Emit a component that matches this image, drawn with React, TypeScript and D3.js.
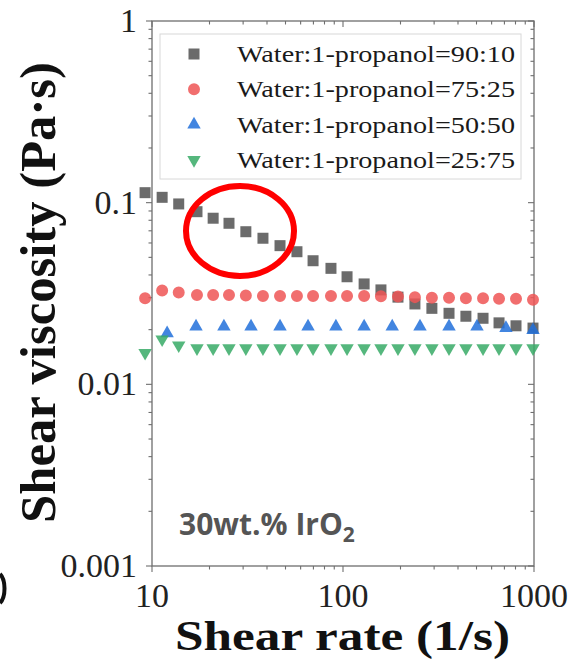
import React from "react";
import * as d3 from "d3";

// shear rates (1/s)
const rates = [9.2, 11.3, 13.8, 17.2, 20.9, 25.3, 31.0, 38.1, 46.8, 57.4, 69.7, 86.5, 105, 129, 158, 194, 238, 292, 359, 440, 541, 656, 805, 988];
const ratesBlue = [12.0, 17.0, 23.8, 33.0, 46.8, 65.6, 91.8, 129, 181, 253, 359, 503, 713, 988];

const visc9010 = [0.1135, 0.107, 0.0984, 0.0892, 0.0821, 0.077, 0.0692, 0.0637, 0.058, 0.0537, 0.0479, 0.0435, 0.0391, 0.0357, 0.0331, 0.0302, 0.0277, 0.0262, 0.0246, 0.0237, 0.0231, 0.0218, 0.021, 0.0204];
const visc7525 = [0.0298, 0.0328, 0.032, 0.031, 0.031, 0.031, 0.0308, 0.0306, 0.0306, 0.0306, 0.0306, 0.0306, 0.0306, 0.0306, 0.0305, 0.0304, 0.0302, 0.03, 0.03, 0.0298, 0.0298, 0.0296, 0.0296, 0.0292];
const visc5050 = [0.0191, 0.0208, 0.0208, 0.0208, 0.0208, 0.0208, 0.0208, 0.0208, 0.0208, 0.0208, 0.0208, 0.0208, 0.0204, 0.0199];
const visc2575 = [0.0149, 0.0177, 0.0164, 0.0158, 0.0158, 0.0158, 0.0158, 0.0158, 0.0158, 0.0158, 0.0158, 0.0158, 0.0158, 0.0158, 0.0158, 0.0158, 0.0158, 0.0158, 0.0158, 0.0158, 0.0158, 0.0158, 0.0158, 0.0158];

const seriesNames = [
  "Water:1-propanol=90:10",
  "Water:1-propanol=75:25",
  "Water:1-propanol=50:50",
  "Water:1-propanol=25:75",
];
const xTickLabels = ["10", "100", "1000"];
const yTickLabels = ["0.001", "0.01", "0.1", "1"];

const W = 584;
const H = 667;
const left = 152, right = 534, top = 21, bottom = 566;

const serif = "'Liberation Serif', 'Times New Roman', serif";

const App = () => {
  const x = d3.scaleLog().domain([10, 1000]).range([left, right]);
  const y = d3.scaleLog().domain([0.001, 1]).range([bottom, top]);

  const symbols = [
    { type: d3.symbolSquare, size: 121, rot: 0, color: "#515151" },
    { type: d3.symbolCircle, size: 113, rot: 0, color: "#ee5555" },
    { type: d3.symbolTriangle, size: 78, rot: 0, color: "#2170db" },
    { type: d3.symbolTriangle, size: 78, rot: 180, color: "#37aa66" },
  ];
  const paths = symbols.map((s) => d3.symbol().type(s.type).size(s.size)()!);

  const series = [
    { xs: rates, ys: visc9010 },
    { xs: rates, ys: visc7525 },
    { xs: ratesBlue, ys: visc5050 },
    { xs: rates, ys: visc2575 },
  ];

  const xTicks = x.ticks();
  const yTicks = y.ticks();
  const isMajor = (v: number) => Math.abs(Math.log10(v) - Math.round(Math.log10(v))) < 1e-6;
  const axisColor = "#6e6e6e";

  return (
    <svg width={W} height={H} style={{ position: "absolute", left: 0, top: 0, background: "#fff" }}>
      {/* frame */}
      <rect x={left} y={top} width={right - left} height={bottom - top} fill="none" stroke={axisColor} strokeWidth={1.3} />

      {/* x ticks: bottom outward, top inward */}
      {xTicks.map((t, i) => {
        const len = isMajor(t) ? 6 : 3.5;
        return (
          <g key={"xt" + i} stroke={axisColor} strokeWidth={1.1}>
            <line x1={x(t)} x2={x(t)} y1={bottom} y2={bottom + len} />
            <line x1={x(t)} x2={x(t)} y1={top} y2={top + len} />
          </g>
        );
      })}
      {/* y ticks: left outward, right inward */}
      {yTicks.map((t, i) => {
        const len = isMajor(t) ? 6 : 3.5;
        return (
          <g key={"yt" + i} stroke={axisColor} strokeWidth={1.1}>
            <line x1={left - len} x2={left} y1={y(t)} y2={y(t)} />
            <line x1={right - len} x2={right} y1={y(t)} y2={y(t)} />
          </g>
        );
      })}

      {/* tick labels */}
      {xTickLabels.map((lab) => (
        <text key={lab} x={x(+lab)} y={607} textAnchor="middle" fontFamily={serif} fontSize={34} fill="#222">
          {lab}
        </text>
      ))}
      {yTickLabels.map((lab) => (
        <text key={lab} x={137} y={y(+lab) + 11} textAnchor="end" fontFamily={serif} fontSize={34} fill="#222">
          {lab}
        </text>
      ))}

      {/* axis titles */}
      <text x={175} y={650} fontFamily={serif} fontWeight="bold" fontSize={42} textLength={335} lengthAdjust="spacingAndGlyphs" fill="#111">
        Shear rate (1/s)
      </text>
      <text
        transform={`translate(55, 523) rotate(-90)`}
        fontFamily={serif}
        fontWeight="bold"
        fontSize={50}
        textLength={461}
        lengthAdjust="spacingAndGlyphs"
        fill="#111"
      >
        Shear viscosity (Pa·s)
      </text>

      {/* legend */}
      <rect x={160} y={34} width={361} height={145} fill="#fff" stroke="#d8d8d8" strokeWidth={1} />
      {seriesNames.map((name, i) => {
        const cy = 54 + i * 35.3;
        return (
          <g key={name}>
            <path d={paths[i]} transform={`translate(194, ${cy}) rotate(${symbols[i].rot})`} fill={symbols[i].color} fillOpacity={0.85} />
            <text x={237} y={cy + 8} fontFamily={serif} fontSize={23} textLength={278} lengthAdjust="spacingAndGlyphs" fill="#1a1a1a">
              {name}
            </text>
          </g>
        );
      })}

      {/* data */}
      {series.map((s, si) => (
        <g key={"s" + si}>
          {s.xs.map((xv, j) => (
            <path
              key={j}
              d={paths[si]}
              transform={`translate(${x(xv)}, ${y(s.ys[j])}) rotate(${symbols[si].rot})`}
              fill={symbols[si].color}
              fillOpacity={0.85}
            />
          ))}
        </g>
      ))}

      {/* annotation */}
      <ellipse cx={240} cy={231} rx={54} ry={45} fill="none" stroke="#ff0000" strokeWidth={6} />
      <text x={179} y={535} fontFamily="'Open Sans', 'Noto Sans', sans-serif" fontWeight="bold" fontSize={30} fill="#555">
        30wt.% IrO
        <tspan fontSize={21} dy={7}>2</tspan>
      </text>

      {/* sliver of the neighbouring panel's label at the left edge */}
      <path d="M0,574 C6,580 6,597 0,603" fill="none" stroke="#111" strokeWidth={4} />
    </svg>
  );
};

export default App;
